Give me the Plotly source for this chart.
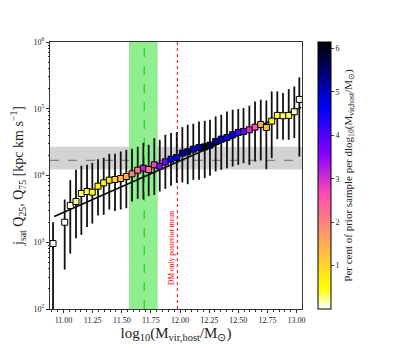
import numpy as np
import plotly.graph_objects as go

# host mass bins (log10 Mvir,host / Msun)
log_mhost = [10.91, 11.01, 11.058, 11.107, 11.153, 11.202, 11.247, 11.296, 11.345, 11.393,
             11.442, 11.491, 11.539, 11.588, 11.637, 11.685, 11.731, 11.779, 11.826, 11.874,
             11.923, 11.972, 12.02, 12.066, 12.114, 12.163, 12.212, 12.257, 12.306, 12.354,
             12.403, 12.452, 12.5, 12.545, 12.595, 12.644, 12.693, 12.741, 12.787, 12.835,
             12.884, 12.933, 12.981, 13.024]

# log10 of j_sat median, Q25, Q75
log_j_med = [2.98, 3.30, 3.55, 3.61, 3.73, 3.76, 3.75, 3.84, 3.89, 3.93,
             3.94, 3.955, 3.985, 4.025, 4.08, 4.11, 4.09, 4.16, 4.14, 4.205,
             4.245, 4.27, 4.335, 4.355, 4.395, 4.42, 4.43, 4.455, 4.51, 4.545,
             4.57, 4.61, 4.645, 4.66, 4.685, 4.725, 4.765, 4.72, 4.815, 4.90,
             4.895, 4.90, 4.955, 5.14]
log_j_q25 = [1.5, 2.59, 2.83, 3.06, 3.11, 3.23, 3.28, 3.40, 3.41, 3.49,
             3.47, 3.49, 3.51, 3.61, 3.65, 3.64, 3.69, 3.71, 3.76, 3.80,
             3.845, 3.89, 3.895, 3.87, 3.935, 3.935, 3.96, 3.995, 4.06, 4.085,
             4.11, 4.135, 4.16, 4.185, 4.16, 4.21, 4.225, 4.095, 4.26, 4.545,
             4.535, 4.535, 4.56, 4.285]
log_j_q75 = [3.30, 3.64, 3.93, 4.085, 4.145, 4.16, 4.19, 4.245, 4.265, 4.325,
             4.325, 4.36, 4.385, 4.40, 4.43, 4.49, 4.46, 4.56, 4.535, 4.61,
             4.635, 4.65, 4.725, 4.76, 4.775, 4.81, 4.82, 4.835, 4.885, 4.91,
             4.96, 4.985, 4.995, 5.01, 5.045, 5.11, 5.135, 5.125, 5.26, 5.26,
             5.235, 5.295, 5.335, 5.47]

# per cent of prior sample per dlog10(M)
pct_prior = [0.02, 0.03, 0.05, 0.2, 0.3, 0.35, 0.5, 0.55, 0.6, 0.8,
             1.0, 1.3, 1.5, 2.0, 2.1, 3.2, 2.2, 2.8, 3.6, 3.7,
             4.7, 4.8, 5.3, 5.4, 5.0, 5.0, 6.1, 5.6, 5.3, 4.9,
             4.4, 4.8, 4.1, 3.9, 3.0, 2.6, 1.5, 1.2, 0.6, 0.35,
             0.3, 0.3, 0.15, 0.03]

# power-law fit endpoints
fit_x = [10.92, 13.04]
fit_y = [2430, 105000]

# reference values
obs_j_lo, obs_j_mid, obs_j_hi = 12300, 16900, 27000
mhost_lo, mhost_mid, mhost_hi = 11.562, 11.693, 11.808
dm_only_mean = 11.977

med = 10 ** np.array(log_j_med)
q25 = 10 ** np.array(log_j_q25)
q75 = 10 ** np.array(log_j_q75)

# gnuplot2_r
cscale = [[0.0, 'rgb(255,255,255)'], [0.08, 'rgb(255,255,0)'], [0.4297, 'rgb(255,77,178)'],
          [0.58, 'rgb(135,0,255)'], [0.75, 'rgb(0,0,255)'], [1.0, 'rgb(0,0,0)']]

FONT = 'Liberation Serif'

fig = go.Figure()

fig.add_trace(go.Scatter(
    x=fit_x, y=fit_y, mode='lines',
    line=dict(color='black', width=1.5), showlegend=False, hoverinfo='skip'
))

fig.add_trace(go.Scatter(
    x=log_mhost, y=med, mode='markers',
    error_y=dict(type='data', symmetric=False, array=q75 - med, arrayminus=med - q25,
                 color='#111', thickness=1.8, width=0),
    marker=dict(symbol='square', size=6, color=pct_prior, colorscale=cscale,
                cmin=0, cmax=6.15, line=dict(color='black', width=1),
                colorbar=dict(
                    x=1.0635, xanchor='left', y=0.5, yanchor='middle',
                    len=1.0, lenmode='fraction', xpad=0, ypad=0,
                    thickness=13, outlinecolor='black', outlinewidth=1,
                    tickvals=[1, 2, 3, 4, 5, 6], ticks='outside', ticklen=3,
                    tickfont=dict(family=FONT, size=8, color='#222'),
                    title=dict(text='Per cent of prior sample per dlog<sub>10</sub>(M<sub>vir,host</sub>/M<sub>⊙</sub>)',
                               side='right', font=dict(family=FONT, size=11, color='#222'))
                )),
    showlegend=False
))

shapes = [
    dict(type='rect', xref='paper', x0=0, x1=1, yref='y', y0=obs_j_lo, y1=obs_j_hi,
         fillcolor='rgb(211,211,211)', line=dict(width=0), layer='below'),
    dict(type='line', xref='paper', x0=0, x1=1, yref='y', y0=obs_j_mid, y1=obs_j_mid,
         line=dict(color='grey', width=1.2, dash='dash'), layer='below'),
    dict(type='rect', xref='x', x0=mhost_lo, x1=mhost_hi, yref='paper', y0=0, y1=1,
         fillcolor='rgb(144,238,144)', line=dict(width=0), layer='below'),
    dict(type='line', xref='x', x0=mhost_mid, x1=mhost_mid, yref='paper', y0=0, y1=1,
         line=dict(color='limegreen', width=1.3, dash='dash'), layer='below'),
    dict(type='line', xref='x', x0=dm_only_mean, x1=dm_only_mean, yref='paper', y0=0, y1=1,
         line=dict(color='red', width=1, dash='dot'), layer='below'),
]

# page body adds an 8px margin, so the figure is 8px smaller and shifted
fig.update_layout(
    width=398, height=340,
    margin=dict(l=42, r=104, t=34, b=39, autoexpand=False),
    plot_bgcolor='white', paper_bgcolor='white',
    font=dict(family=FONT, color='#222'),
    shapes=shapes,
    annotations=[dict(
        x=dm_only_mean, xref='x', y=0.23, yref='paper', xshift=-6,
        xanchor='center', yanchor='middle',
        text='DM only posterior mean', textangle=-90, showarrow=False,
        font=dict(family=FONT, size=7.5, color='red')
    )],
    xaxis=dict(
        range=[10.884, 13.047], showgrid=False, zeroline=False, automargin=False,
        showline=True, linecolor='#333', linewidth=1, mirror=True,
        tickvals=[11.0, 11.25, 11.5, 11.75, 12.0, 12.25, 12.5, 12.75, 13.0],
        ticktext=['11.00', '11.25', '11.50', '11.75', '12.00', '12.25', '12.50', '12.75', '13.00'],
        ticks='outside', ticklen=3, tickcolor='#333',
        minor=dict(dtick=0.05, tick0=11.0, ticks='outside', ticklen=1.5, tickcolor='#333'),
        tickfont=dict(family=FONT, size=8),
        title=dict(text='log<sub>10</sub>(M<sub>vir,host</sub>/M<sub>⊙</sub>)',
                   font=dict(family=FONT, size=15), standoff=2)
    ),
    yaxis=dict(
        type='log', range=[2, 6], showgrid=False, zeroline=False, automargin=False,
        showline=True, linecolor='#333', linewidth=1, mirror=True,
        tickvals=[1e2, 1e3, 1e4, 1e5, 1e6],
        ticktext=['10<sup>2</sup>', '10<sup>3</sup>', '10<sup>4</sup>', '10<sup>5</sup>', '10<sup>6</sup>'],
        ticks='outside', ticklen=3, tickcolor='#333',
        minor=dict(dtick='D1', ticks='outside', ticklen=1.5, tickcolor='#333'),
        tickfont=dict(family=FONT, size=8),
        title=dict(text='j<sub>sat</sub> Q<sub>25</sub>, Q<sub>75</sub> [kpc km s<sup>−1</sup>]',
                   font=dict(family=FONT, size=14), standoff=6)
    ),
)

fig.write_html("out.html")
